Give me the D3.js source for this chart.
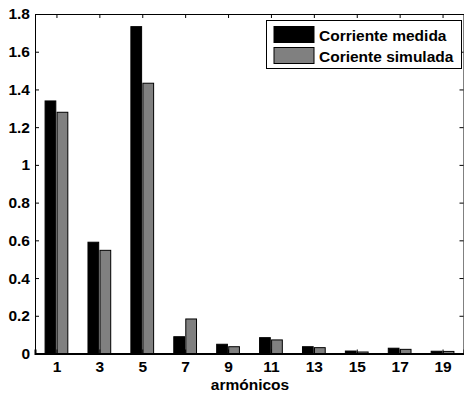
<!DOCTYPE html>
<html>
<head>
<meta charset="utf-8">
<script src="https://cdn.jsdelivr.net/npm/d3@7"></script>
<style>
  body { margin: 0; background: #fff; }
  svg text { font-family: "Liberation Sans", Arial, sans-serif; font-weight: bold; }
</style>
</head>
<body>
<div id="chart"></div>
<script>
// harmonic orders and the two current series
var harmonics = [1, 3, 5, 7, 9, 11, 13, 15, 17, 19];
var measured  = [1.339, 0.590, 1.733, 0.089, 0.049, 0.084, 0.036, 0.013, 0.028, 0.012];
var simulated = [1.279, 0.547, 1.433, 0.183, 0.036, 0.072, 0.031, 0.008, 0.022, 0.011];
var yTickValues = [0, 0.2, 0.4, 0.6, 0.8, 1, 1.2, 1.4, 1.6, 1.8];
var seriesNames = ["Corriente medida", "Coriente simulada"];
var seriesColors = ["#000000", "#808080"];

var W = 464, H = 394;
var margin = {top: 14, right: 0, bottom: 40, left: 35};
var tickLen = 4;
var fontSize = "15.5px";

var svg = d3.select("#chart").append("svg")
    .attr("width", W).attr("height", H);

var x = d3.scaleLinear().domain([0, 20]).range([margin.left, W - margin.right]);
var y = d3.scaleLinear().domain([0, 1.8]).range([H - margin.bottom - 0.5, margin.top]);

// bars
var barW = 0.5, gap = 0.03;
var seriesData = [measured, simulated];
seriesData.forEach(function(vals, s) {
    svg.append("g").selectAll("rect")
        .data(vals)
        .enter().append("rect")
        .attr("x", function(d, i) {
            var c = harmonics[i];
            return s === 0 ? x(c - gap - barW) : x(c + gap);
        })
        .attr("width", x(barW) - x(0))
        .attr("y", function(d) { return y(d); })
        .attr("height", function(d) { return y(0) - y(d); })
        .attr("fill", seriesColors[s])
        .attr("stroke", "#000")
        .attr("stroke-width", 1);
});

// axes
var xAxis = d3.axisBottom(x).tickValues(harmonics).tickSize(-tickLen).tickPadding(7);
var gx = svg.append("g").attr("transform", "translate(0," + y(0) + ")").call(xAxis);
gx.select(".domain").attr("stroke-width", 2);

var yAxis = d3.axisLeft(y).tickValues(yTickValues).tickSize(-tickLen).tickPadding(5)
    .tickFormat(function(d) { return d3.format("~g")(d); });
var gy = svg.append("g").attr("transform", "translate(" + margin.left + ",0)").call(yAxis);

var xTop = d3.axisTop(x).tickValues(harmonics).tickSize(-tickLen).tickFormat("");
svg.append("g").attr("transform", "translate(0," + margin.top + ")").call(xTop);

var yRight = d3.axisRight(y).tickValues(yTickValues).tickSize(-tickLen).tickFormat("");
svg.append("g").attr("transform", "translate(" + (W - margin.right - 0.5) + ",0)").call(yRight);

svg.selectAll(".tick text").style("font-size", fontSize).style("font-family", "'Liberation Sans', Arial, sans-serif").style("font-weight", "bold");
svg.selectAll(".domain").attr("stroke", "#000");

// axis label
svg.append("text")
    .attr("x", (x(0) + x(20)) / 2 + 0.5)
    .attr("y", 390)
    .attr("text-anchor", "middle")
    .style("font-size", fontSize)
    .text("armónicos");

// legend
var lg = svg.append("g").attr("transform", "translate(266.5,20.5)");
lg.append("rect").attr("width", 195).attr("height", 48)
    .attr("fill", "#fff").attr("stroke", "#000").attr("stroke-width", 1);
seriesNames.forEach(function(name, i) {
    lg.append("rect")
        .attr("x", 7.5).attr("y", 6 + i * 21)
        .attr("width", 40).attr("height", 16)
        .attr("fill", seriesColors[i]).attr("stroke", "#000");
    lg.append("text")
        .attr("x", 52.5).attr("y", 20 + i * 21)
        .style("font-size", fontSize)
        .text(name);
});
</script>
</body>
</html>
